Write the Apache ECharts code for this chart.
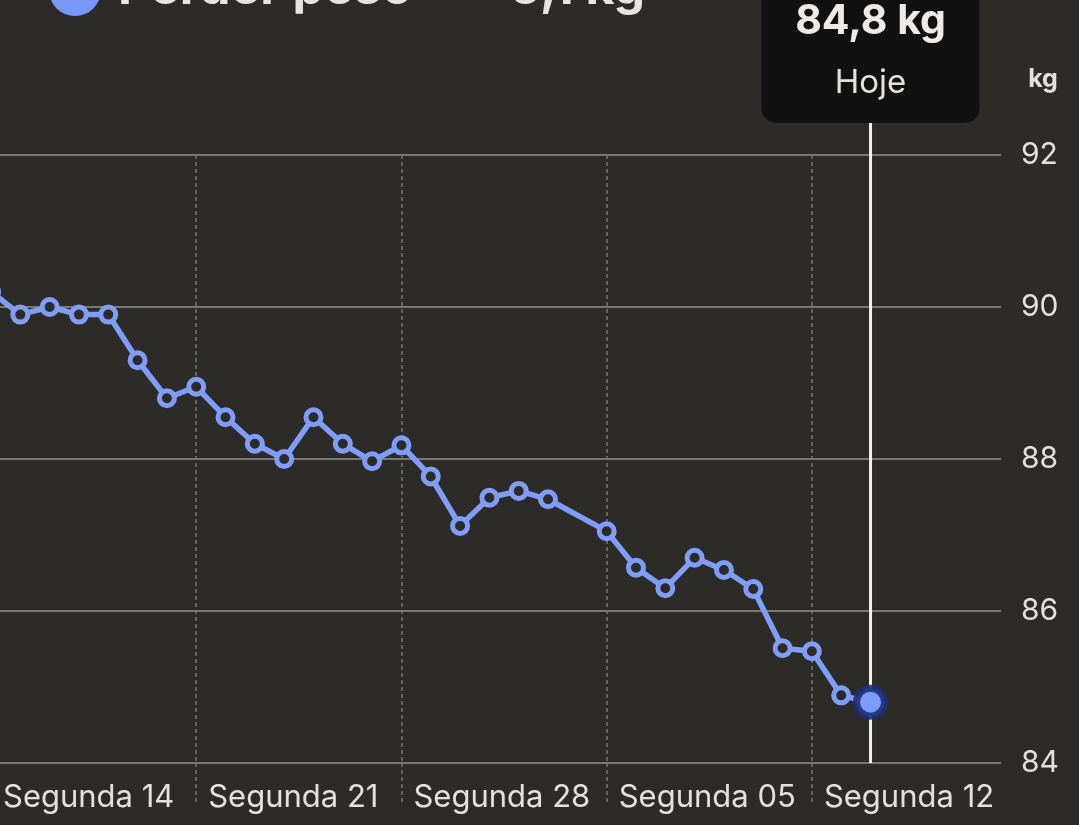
<!DOCTYPE html>
<html><head><meta charset="utf-8">
<script src="https://cdn.jsdelivr.net/npm/echarts@6/dist/echarts.min.js"></script>
<style>html,body{margin:0;padding:0;background:#2d2b28;}#c{width:1079px;height:825px;}</style>
</head><body><div id="c"></div>
<script>
// ---- data ----
const days = [0,1,2,3,4,5,6,7,8,9,10,11,12,13,14,15,16,17,18,19,21,22,23,24,25,26,27,28,29,30];
const weights = [90.2,89.9,90.0,89.9,89.9,89.3,88.8,88.95,88.55,88.2,88.0,88.55,88.2,87.97,88.18,87.77,87.12,87.49,87.58,87.47,87.05,86.57,86.3,86.7,86.54,86.29,85.51,85.47,84.89,84.8];
const weekTicks = [0,7,14,21,28];
const weekLabels = ['Segunda 14','Segunda 21','Segunda 28','Segunda 05','Segunda 12'];
const yMin = 84, yMax = 92, yStep = 2;
const unitLabel = 'kg';
const goalTitle = 'Perder peso';
const goalValue = '5,1 kg';
const todayValue = '84,8 kg';
const todayLabel = 'Hoje';

const BG = '#2d2b28', BLUE = '#809df8', GRID = '#7a7873', TXT = '#e3e1dd';
const FONT = 'Inter';

const chart = echarts.init(document.getElementById('c'), null, {renderer:'canvas'});
const seriesData = days.map((d,i) => {
  const last = i === days.length - 1;
  return last ? {value:[d, weights[i]], symbolSize: 28,
      itemStyle:{color:'#7d9bf9', borderColor:'rgba(30,46,120,0.9)', borderWidth:7}}
    : [d, weights[i]];
});

const option = {
  backgroundColor: BG,
  animation: false,
  grid: {left: -9, right: 78, top: 155, bottom: 62, containLabel: false, outerBoundsMode: 'none'},
  xAxis: {
    type: 'value', min: 0, max: 34.45,
    axisLine: {show: false},
    axisTick: {show: true, customValues: weekTicks, length: 42, inside: false,
      lineStyle: {color: GRID, type: [4,3], width: 1.5}},
    splitLine: {show: true, lineStyle: {color: GRID, type: [4,3], width: 1.5}},
    axisLabel: {customValues: weekTicks, showMinLabel: true, showMaxLabel: true, hideOverlap: false,
      formatter: v => { const k = weekTicks.indexOf(v); return k >= 0 ? weekLabels[k] : ''; },
      align: 'left', padding: [0,0,0,12], margin: 19,
      color: TXT, fontFamily: FONT, fontSize: 31}
  },
  yAxis: {
    type: 'value', position: 'right', min: yMin, max: yMax, interval: yStep,
    axisLine: {show: false}, axisTick: {show: false},
    splitLine: {show: true, lineStyle: {color: GRID, width: 2}},
    axisLabel: {margin: 20, color: TXT, fontFamily: FONT, fontSize: 30, align: 'left'}
  },
  series: [{
    type: 'line', data: seriesData, z: 5,
    symbol: 'circle', symbolSize: 15,
    lineStyle: {color: BLUE, width: 5.5},
    itemStyle: {color: BG, borderColor: BLUE, borderWidth: 5},
    emphasis: {disabled: true}
  }]
};
chart.setOption(option);

const lastIdx = days.length - 1;
const pLast = chart.convertToPixel({gridIndex:0}, [days[lastIdx], weights[lastIdx]]);
const pBottom = chart.convertToPixel({gridIndex:0}, [days[lastIdx], yMin]);
const cx = pLast[0];
const boxW = 218, boxBottom = 123;

chart.setOption({
  graphic: [
    {type:'line', z: 1, shape:{x1:cx, y1:boxBottom, x2:cx, y2:pBottom[1]}, style:{stroke:'#f2f2f2', lineWidth:3}},
    {type:'rect', z: 10, shape:{x:cx-boxW/2, y:-30, width:boxW, height:boxBottom+30, r:15}, style:{fill:'#111111'}},
    {type:'text', z: 11, style:{x:cx, y:22, text:todayValue, fill:'#ecebe9', font:'bold 41px Inter', textAlign:'center', textVerticalAlign:'middle'}},
    {type:'text', z: 11, style:{x:cx, y:83, text:todayLabel, fill:'#e3e1dd', font:'33px Inter', textAlign:'center', textVerticalAlign:'middle'}},
    {type:'text', z: 11, style:{x:1043, y:79, text:unitLabel, fill:'#e3e1dd', font:'bold 25px Inter', textAlign:'center', textVerticalAlign:'middle'}},
    {type:'circle', z: 11, shape:{cx:75, cy:-10, r:26}, style:{fill:'#7b98f8'}},
    {type:'text', z: 11, style:{x:118, y:14, text:goalTitle, fill:'#e6e5e3', font:'bold 50px Inter', textAlign:'left', textVerticalAlign:'bottom'}},
    {type:'text', z: 11, style:{x:645, y:14, text:'\u2212 ' + goalValue, fill:'#e6e5e3', font:'bold 50px Inter', textAlign:'right', textVerticalAlign:'bottom'}}
  ]
});
</script></body></html>
